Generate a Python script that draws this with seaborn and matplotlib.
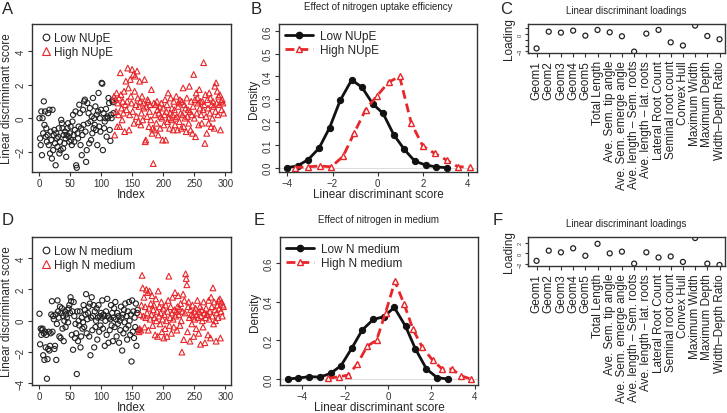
import numpy as np
import pandas as pd
import matplotlib
matplotlib.use("Agg")
import matplotlib.pyplot as plt
from matplotlib.lines import Line2D
import seaborn as sns

sns.set_style("ticks")
plt.rcParams['font.family'] = ['Liberation Sans', 'DejaVu Sans']

RED = '#e8262a'

# ---- panel A: scores by index, nitrogen uptake efficiency ----
nupe_low = [0.0, -1.2, -1.6, 0.4, -2.2, 0.0, -0.9, 1.0, -0.4, 0.4,
            -1.1, -0.6, -1.4, -1.0, 0.3, -1.6, 0.5, -2.1, -0.8, -1.3,
            -2.4, 0.5, -1.9, -1.0, -0.7, -1.5, -2.8, -0.9, -1.2, -1.7,
            -1.1, -0.6, -2.1, -1.4, -1.9, -0.1, -0.3, -0.6, -1.8, -1.0,
            -1.5, -0.8, -1.2, -2.3, -1.0, -0.6, -0.3, -1.1, -1.4, -0.9,
            -0.5, -1.3, -1.6, -0.2, 0.2, -1.0, -1.4, -0.7, 0.4, -2.8,
            -2.95, -0.9, -1.2, -0.5, 0.8, 0.3, -1.6, -0.6, -2.2, -1.0,
            0.5, -0.4, 1.0, 1.1, -0.8, -2.6, -1.9, 0.9, -0.3, 0.3,
            -1.5, 0.6, -0.2, -1.3, 0.1, -0.9, 1.2, -0.6, 0.0, -0.4,
            0.7, -0.7, 0.2, -1.6, 0.4, 1.5, -0.5, 0.0, -0.8, 0.5,
            2.1, 2.05, -1.9, 0.3, -0.6, -0.2, 0.0, 0.55, -1.1, 0.1,
            0.0, 1.2, 0.9, -0.7, -1.35, 0.2, 0.0, 1.05, 0.95, 0.3]
nupe_high = [1.3, -1.0, 1.1, 0.4, 1.5, -0.5, 0.9, 0.2, 1.2, -0.5,
             2.7, 1.4, 0.6, -0.1, 1.0, 0.3, 1.6, -0.8, 0.8, 2.2,
             0.5, 1.0, 2.98, 1.8, -0.7, 0.2, 2.3, 1.3, 0.9, 2.9,
             0.4, 2.6, -0.3, 1.6, 2.5, 0.8, 0.1, 2.8, 1.2, -0.2,
             0.7, 2.2, 1.0, -0.4, 0.3, 1.3, -0.1, 0.9, 0.6, 2.3,
             -1.4, -1.3, 0.7, 0.1, 1.1, 1.0, -0.5, 0.4, 0.8, -0.1,
             1.7, -0.9, -0.6, -2.7, 0.9, -0.7, 0.2, 0.8, -0.3, 1.0,
             0.5, -1.0, 0.3, 0.7, -0.6, 0.1, 0.9, 0.0, -1.3, 0.6,
             -0.4, 0.2, 1.1, -1.3, 0.4, 0.8, -0.2, 1.5, 0.0, -0.6,
             0.3, 1.2, -0.1, 0.6, 0.2, -0.7, 1.0, 0.5, -0.4, 0.0,
             1.3, 0.1, -0.7, 0.7, 0.9, -0.2, 1.1, 0.3, -0.6, 1.0,
             0.2, 1.8, -0.5, 0.8, 0.0, 0.6, -0.8, 1.2, 0.1, 0.5,
             -0.3, 1.9, 0.4, -0.7, 1.0, 0.2, -0.9, 0.7, 2.6, 0.0,
             1.1, -1.1, 1.5, 0.3, 1.2, 0.9, -0.4, 1.7, 0.6, 1.0,
             0.2, -0.3, 1.0, 0.5, 3.3, 0.8, -1.5, 1.4, 0.1, -0.9,
             1.1, 0.6, -0.3, 1.5, 0.3, 1.2, -0.5, 0.8, 0.0, 1.0,
             0.7, -0.6, 1.9, 0.4, 2.1, 0.9, 1.6, 0.2, 1.3, 0.8,
             1.4, -0.7, 1.0, 0.5, 1.1, 0.9, 0.3]

# ---- panel D: scores by index, nitrogen in medium ----
med_low = [0.45, -1.5, -0.5, -0.9, -0.6, -0.5, -2.2, -0.8, -2.5, -0.7,
           -1.7, -0.9, -3.7, -2.45, -1.8, -0.7, -1.9, -1.6, -0.8, 0.4,
           1.25, -0.7, 0.3, 0.1, -1.8, -1.6, 0.4, -2.5, -0.2, 1.3,
           0.6, 0.2, -1.0, 0.9, -1.1, 0.5, 0.8, -0.5, 0.3, -1.3,
           0.0, 0.6, -0.4, 0.4, 0.2, 0.7, -0.1, 0.8, 1.0, 0.5,
           1.5, 1.25, -0.9, 0.6, -1.85, 1.2, 0.3, -1.1, -0.2, -0.8,
           -3.4, 0.6, -1.3, 0.0, -0.3, 0.6, -1.7, -1.0, 0.2, -0.5,
           -0.1, 1.0, -0.4, 0.7, 0.4, 1.7, -0.8, 0.1, 0.5, 0.9,
           -1.0, 1.1, -2.2, 0.2, 1.5, -0.6, 0.3, 1.0, -1.7, 0.6,
           -0.4, 0.0, 0.8, -1.2, 0.2, 1.0, -0.7, 0.3, -0.3, 0.5,
           0.2, 1.3, -0.5, 0.4, 0.3, -1.6, 0.0, 0.6, -0.9, 1.4,
           0.3, -1.4, 0.2, -0.6, 0.1, 1.0, -0.3, 0.5, -1.3, 0.2,
           0.8, -0.4, 1.2, 0.1, -1.0, 0.5, -0.2, 0.3, -1.4, 0.0,
           -0.6, 0.9, 0.2, -1.9, 0.4, -0.8, 0.7, -0.1, 1.1, -0.5,
           0.3, -1.2, 0.6, -0.3, 1.2, 0.0, -0.9, 0.4, -2.6, 1.3,
           -0.7, 0.6, -1.1, 0.2, -0.4, 1.1, -1.6, 0.5, 0.7, -0.6]
med_high = [-0.7, -0.5, 0.4, -0.6, 1.0, 2.9, 2.1, 0.3, 1.5, -0.4,
            0.9, 0.2, 2.0, 0.5, 1.8, -0.6, 0.8, 1.9, 0.1, 1.1,
            0.4, 1.6, -0.3, 0.7, 1.0, 0.2, -0.9, 1.4, 0.0, 0.6,
            -1.0, 1.9, 0.3, 0.9, -0.2, 0.5, 1.2, -0.7, 0.1, 0.8,
            -1.1, 0.4, -0.5, 1.0, 0.0, -1.0, 0.6, 1.3, 2.85, -0.3,
            0.2, 0.9, -0.8, 0.5, 1.5, 0.1, -0.4, 0.7, 1.8, 0.3,
            0.6, -0.6, 0.9, 1.6, 0.4, 0.8, -0.3, 1.1, 0.0, -2.0,
            0.6, 1.7, -1.2, 1.3, 0.5, 3.0, 2.7, 2.3, -0.7, 0.9,
            1.2, 0.2, -1.3, 0.7, 0.4, -0.2, 1.0, 0.3, -1.0, 0.6,
            0.1, 0.8, -0.5, 0.4, 1.3, 0.2, -0.8, 0.6, 0.9, -1.5,
            0.3, 0.7, 0.0, -0.4, 1.2, 0.5, -1.4, 0.2, 0.8, 0.4,
            0.4, -0.9, 1.3, 0.1, 0.6, -1.1, 1.5, 0.9, 0.3, 2.1,
            -0.2, 1.2, 0.7, 0.0, -1.3, 0.5, 1.0, 0.2, 1.3, 0.8,
            1.4, -1.1, 0.6, 1.2, 0.3, 1.0, 0.9]

# ---- panel B: densities ----
b_low_x = [-4.0, -3.55, -3.08, -2.6, -2.13, -1.66, -1.15, -0.69, -0.22, 0.24, 0.71, 1.18, 1.65, 2.12, 2.6, 3.08]
b_low_y = [0.0, 0.008, 0.035, 0.085, 0.175, 0.295, 0.385, 0.352, 0.28, 0.238, 0.145, 0.08, 0.028, 0.012, 0.003, 0.0]
b_high_x = [-3.68, -3.08, -2.57, -2.05, -1.53, -1.05, -0.53, -0.03, 0.49, 0.97, 1.49, 2.0, 2.52, 3.07, 3.56, 4.07]
b_high_y = [0.0, 0.004, 0.007, 0.004, 0.05, 0.15, 0.255, 0.315, 0.375, 0.40, 0.195, 0.095, 0.063, 0.032, 0.004, 0.003]

# ---- panel E: densities ----
e_low_x = [-4.65, -4.15, -3.66, -3.15, -2.66, -2.18, -1.69, -1.2, -0.69, -0.2, 0.28, 0.8, 1.26, 1.77, 2.26, 2.77]
e_low_y = [0.0, 0.005, 0.012, 0.01, 0.029, 0.069, 0.158, 0.253, 0.308, 0.322, 0.37, 0.273, 0.155, 0.052, 0.007, 0.0]
e_high_x = [-2.77, -2.28, -1.85, -1.43, -0.97, -0.54, -0.12, 0.31, 0.74, 1.15, 1.58, 2.05, 2.49, 2.95, 3.35, 3.82]
e_high_y = [0.003, 0.012, 0.02, 0.077, 0.17, 0.2, 0.343, 0.505, 0.386, 0.256, 0.163, 0.098, 0.052, 0.052, 0.017, 0.0]

# ---- panels C / F: loadings ----
traits = ['Geom1', 'Geom2', 'Geom3', 'Geom4', 'Geom5', 'Total Length',
          'Ave. Sem. tip angle', 'Ave. Sem. emerge angle', 'Ave. length \u2013 Sem. roots',
          'Ave. length \u2013 lat. roots', 'Lateral Root Count', 'Seminal root count',
          'Convex Hull', 'Maximum Width', 'Maximum Depth', 'Width\u2013Depth Ratio']
load_nupe = [-2.5, 0.4, 0.23, 0.58, -0.29, 0.7, 0.29, -0.4, -3.06, 0.06, 0.7, -1.45, -2.0, 1.45, -0.35, -0.92]
load_med = [-1.44, 0.52, 0.2, 0.98, -0.46, 1.84, 0.0, 0.33, -1.97, 0.2, -0.79, -0.59, -1.64, 2.95, -1.97, -2.23]

W, H = 727, 414
fig = plt.figure(figsize=(W / 100, H / 100), dpi=100)


def add_ax(l, r, t, b):
    return fig.add_axes([l / W, 1 - b / H, (r - l) / W, (b - t) / H])


def style_box(ax, tick_size=7):
    for s in ax.spines.values():
        s.set_visible(True)
        s.set_linewidth(1.0)
        s.set_color('#333333')
    ax.tick_params(direction='out', length=3, width=0.8, color='#333333',
                   labelsize=tick_size, labelcolor='#333333', pad=1.5)
    for lab in ax.get_yticklabels():
        lab.set_rotation(90)
        lab.set_va('center')


def score_panel(ax, low, high, labels, ylim, yticks):
    df = pd.DataFrame({'Index': np.arange(1, len(low) + len(high) + 1),
                       'score': low + high,
                       'group': [labels[0]] * len(low) + [labels[1]] * len(high)})
    lo = df[df['group'] == labels[0]]
    hi = df[df['group'] == labels[1]]
    sns.scatterplot(data=lo, x='Index', y='score', marker='o', s=14,
                    facecolor='none', edgecolor='#222222', linewidth=0.8, ax=ax)
    sns.scatterplot(data=hi, x='Index', y='score', marker='^', s=17,
                    facecolor='none', edgecolor=RED, linewidth=0.8, ax=ax)
    ax.set_xlim(-11, 309)
    ax.set_ylim(*ylim)
    ax.set_xticks([0, 50, 100, 150, 200, 250, 300])
    ax.set_yticks(yticks)
    ax.set_xlabel('Index', fontsize=8.5, labelpad=0)
    ax.set_ylabel('Linear discriminant score', fontsize=8.5, labelpad=2)
    style_box(ax)
    handles = [Line2D([], [], marker='o', ls='none', mfc='none', mec='#222222', mew=0.8, ms=4.8),
               Line2D([], [], marker='^', ls='none', mfc='none', mec=RED, mew=0.8, ms=5.2)]
    ax.legend(handles, labels, loc='upper left', frameon=False, fontsize=8.5,
              handletextpad=0.3, borderaxespad=0.3, labelspacing=0.15, handlelength=0.9)


def density_panel(ax, lx, ly, hx, hy, labels, title, xlim, ylim, yticks):
    df_lo = pd.DataFrame({'x': lx, 'y': ly})
    df_hi = pd.DataFrame({'x': hx, 'y': hy})
    ax.axhline(0, color='#dddddd', lw=0.8, zorder=0)
    sns.lineplot(data=df_lo, x='x', y='y', color='#111111', lw=2.0, marker='o',
                 markersize=4.5, markeredgecolor='#111111', markerfacecolor='#111111',
                 sort=False, ax=ax)
    sns.lineplot(data=df_hi, x='x', y='y', color=RED, lw=2.0, marker='^',
                 markersize=5, markeredgecolor=RED, markerfacecolor='white',
                 markeredgewidth=1.0, linestyle=(0, (3.2, 1.8)), sort=False, ax=ax)
    ax.set_xlim(*xlim)
    ax.set_ylim(*ylim)
    ax.set_xticks([-4, -2, 0, 2, 4])
    ax.set_yticks(yticks)
    ax.set_yticklabels(['%.1f' % v for v in yticks])
    ax.set_xlabel('Linear discriminant score', fontsize=8.5, labelpad=0)
    ax.set_ylabel('Density', fontsize=8.5, labelpad=2)
    ax.set_title(title, fontsize=7, pad=11)
    style_box(ax)
    handles = [Line2D([], [], color='#111111', lw=2.0, marker='o', ms=4.5),
               Line2D([], [], color=RED, lw=2.0, marker='^', ms=5, mfc='white', mec=RED,
                      ls=(0, (3.2, 1.8)))]
    ax.legend(handles, labels, loc='upper left', frameon=False, fontsize=8.5,
              handlelength=2.3, handletextpad=0.6, borderaxespad=0.15, labelspacing=0.15)


def loading_panel(ax, vals, ylim, yticks, yticklabels):
    df = pd.DataFrame({'trait': np.arange(len(traits)), 'loading': vals})
    sns.scatterplot(data=df, x='trait', y='loading', marker='o', s=13,
                    facecolor='none', edgecolor='#222222', linewidth=0.9, ax=ax)
    ax.set_xlim(-0.7, len(traits) - 0.55)
    ax.set_ylim(*ylim)
    ax.set_xticks(range(len(traits)))
    ax.set_xticklabels(traits, rotation=90)
    ax.set_yticks(yticks)
    ax.set_yticklabels(yticklabels)
    ax.set_xlabel('')
    ax.set_ylabel('Loading', fontsize=8.5, labelpad=2)
    ax.set_title('Linear discriminant loadings', fontsize=7, pad=8)
    style_box(ax, tick_size=4)
    ax.tick_params(axis='x', labelsize=8.5, labelcolor='#222222', pad=2)
    ax.tick_params(axis='y', length=2.5, pad=1)


axA = add_ax(32, 231, 25, 173)
score_panel(axA, nupe_low, nupe_high, ['Low NUpE', 'High NUpE'], (-3.2, 5.6), [-2, 0, 2, 4])
axD = add_ax(32, 231, 238, 386)
score_panel(axD, med_low, med_high, ['Low N medium', 'High N medium'], (-4.1, 5.35), [-4, -2, 0, 2, 4])

axB = add_ax(279, 477, 25, 173)
density_panel(axB, b_low_x, b_low_y, b_high_x, b_high_y, ['Low NUpE', 'High NUpE'],
              'Effect of nitrogen uptake efficiency', (-4.37, 4.4), (-0.019, 0.63),
              [0.0, 0.1, 0.2, 0.3, 0.4, 0.5, 0.6])
axE = add_ax(280, 478, 238, 386)
density_panel(axE, e_low_x, e_low_y, e_high_x, e_high_y, ['Low N medium', 'High N medium'],
              'Effect of nitrogen in medium', (-5.0, 4.15), (-0.031, 0.734),
              [0.0, 0.2, 0.4, 0.6])

axC = add_ax(528, 725, 25, 54)
loading_panel(axC, load_nupe, (-3.3, 1.73), [-3, -2, -1, 0, 1], ['\u22123', '', '', '0', ''])
axF = add_ax(528, 725, 238, 267)
loading_panel(axF, load_med, (-2.43, 3.15), [-2, 0, 2], ['\u22122', '0', '2'])

for letter, (px, py) in zip('ABCDEF', [(2, 2), (251, 2), (500, 2), (2, 213), (254, 213), (493, 213)]):
    fig.text(px / W, 1 - py / H, letter, fontsize=12, va='top', ha='left')

fig.savefig('out.png', dpi=100)
